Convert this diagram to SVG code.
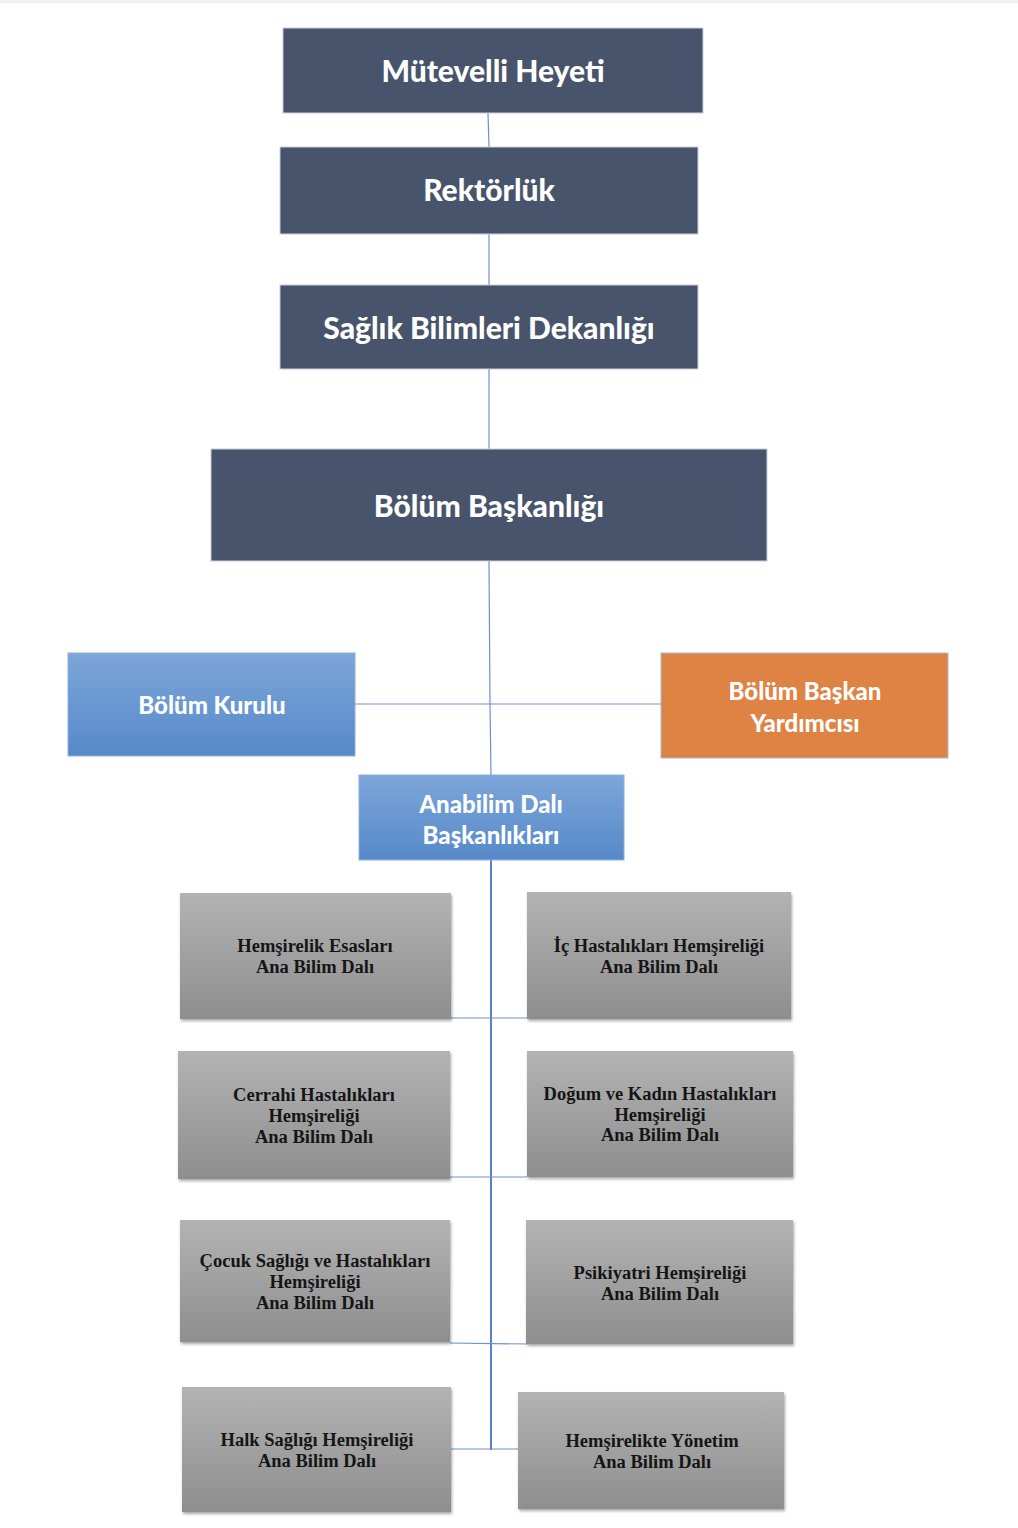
<svg xmlns="http://www.w3.org/2000/svg" width="1018" height="1528" viewBox="0 0 1018 1528">
<defs>
<style>
.dark{fill:#47546B;stroke:#C9CED8;stroke-width:1}
.dt{font-family:Lato,"Noto Sans",sans-serif;font-weight:900;fill:#FFFFFF;text-anchor:middle}
.gt{font-family:"Liberation Serif","DejaVu Serif",serif;font-weight:bold;font-size:18.5px;fill:#151515;text-anchor:middle}
.gray{fill:url(#gg);filter:url(#sh)}
.conn{stroke:#6F8FD3;stroke-width:1.2;fill:none}
.connT{stroke:#5B7FD0;stroke-width:2;fill:none}
</style>
<linearGradient id="bg" x1="0" y1="0" x2="0" y2="1">
<stop offset="0" stop-color="#7DA6D9"/>
<stop offset="1" stop-color="#5689C9"/>
</linearGradient>
<linearGradient id="gg" x1="0" y1="0" x2="0" y2="1">
<stop offset="0" stop-color="#B3B3B3"/>
<stop offset="1" stop-color="#8E8E8E"/>
</linearGradient>
<filter id="sh" x="-10%" y="-10%" width="125%" height="130%">
<feDropShadow dx="1" dy="2" stdDeviation="1.5" flood-color="#000" flood-opacity="0.35"/>
</filter>
</defs>
<rect x="0" y="0" width="1018" height="3" fill="#EFEFEF"/>
<g id="connectors">
<line class="conn" x1="488" y1="113" x2="489" y2="147"/>
<line class="conn" x1="489" y1="234" x2="489" y2="285"/>
<line class="conn" x1="489" y1="369" x2="489" y2="449"/>
<line class="conn" x1="489" y1="561" x2="490" y2="704"/>
<line class="conn" x1="490" y1="704" x2="491" y2="775"/>
<line class="conn" x1="355" y1="704" x2="661" y2="704"/>
<line class="connT" x1="491" y1="860" x2="491" y2="1450"/>
<line class="conn" x1="451" y1="1018" x2="527" y2="1018"/>
<line class="conn" x1="450" y1="1177" x2="527" y2="1177"/>
<line class="conn" x1="450" y1="1343" x2="527" y2="1344"/>
<line class="conn" x1="451" y1="1449" x2="518" y2="1449"/>
</g>
<g id="mutevelli">
<rect class="dark" x="283" y="28" width="420" height="85"/>
<text class="dt" x="493" y="82" font-size="30">Mütevelli Heyeti</text>
</g>
<g id="rektorluk">
<rect class="dark" x="280" y="147" width="418" height="87"/>
<text class="dt" x="489" y="201" font-size="30">Rektörlük</text>
</g>
<g id="dekanlik">
<rect class="dark" x="280" y="285" width="418" height="84"/>
<text class="dt" x="489" y="339" font-size="30">Sağlık Bilimleri Dekanlığı</text>
</g>
<g id="bolumbaskanligi">
<rect class="dark" x="211" y="449" width="556" height="112"/>
<text class="dt" x="489" y="517" font-size="30">Bölüm Başkanlığı</text>
</g>
<g id="bolumkurulu">
<rect x="68" y="653" width="287" height="103" fill="url(#bg)" stroke="#8EAEDC" stroke-width="1"/>
<text class="dt" x="212" y="714" font-size="24">Bölüm Kurulu</text>
</g>
<g id="baskanyardimcisi">
<rect x="661" y="653" width="287" height="105" fill="#DF8344" stroke="#A9B9D6" stroke-width="1"/>
<text class="dt" x="805" y="700" font-size="24">Bölüm Başkan</text>
<text class="dt" x="805" y="732" font-size="24">Yardımcısı</text>
</g>
<g id="anabilimdali">
<rect x="359" y="775" width="265" height="85" fill="url(#bg)" stroke="#8EAEDC" stroke-width="1"/>
<text class="dt" x="491" y="813" font-size="24">Anabilim Dalı</text>
<text class="dt" x="491" y="844" font-size="24">Başkanlıkları</text>
</g>
<g id="g1">
<rect class="gray" x="180" y="893" width="271" height="126"/>
<text class="gt" x="315" y="952">Hemşirelik Esasları</text>
<text class="gt" x="315" y="973">Ana Bilim Dalı</text>
</g>
<g id="g2">
<rect class="gray" x="527" y="892" width="264" height="127"/>
<text class="gt" x="659" y="952">İç Hastalıkları Hemşireliği</text>
<text class="gt" x="659" y="973">Ana Bilim Dalı</text>
</g>
<g id="g3">
<rect class="gray" x="178" y="1051" width="272" height="128"/>
<text class="gt" x="314" y="1101">Cerrahi Hastalıkları</text>
<text class="gt" x="314" y="1122">Hemşireliği</text>
<text class="gt" x="314" y="1143">Ana Bilim Dalı</text>
</g>
<g id="g4">
<rect class="gray" x="527" y="1051" width="266" height="126"/>
<text class="gt" x="660" y="1100">Doğum ve Kadın Hastalıkları</text>
<text class="gt" x="660" y="1121">Hemşireliği</text>
<text class="gt" x="660" y="1141">Ana Bilim Dalı</text>
</g>
<g id="g5">
<rect class="gray" x="180" y="1220" width="270" height="122"/>
<text class="gt" x="315" y="1267">Çocuk Sağlığı ve Hastalıkları</text>
<text class="gt" x="315" y="1288">Hemşireliği</text>
<text class="gt" x="315" y="1309">Ana Bilim Dalı</text>
</g>
<g id="g6">
<rect class="gray" x="526" y="1220" width="267" height="124"/>
<text class="gt" x="660" y="1279">Psikiyatri Hemşireliği</text>
<text class="gt" x="660" y="1300">Ana Bilim Dalı</text>
</g>
<g id="g7">
<rect class="gray" x="182" y="1387" width="269" height="125"/>
<text class="gt" x="317" y="1446">Halk Sağlığı Hemşireliği</text>
<text class="gt" x="317" y="1467">Ana Bilim Dalı</text>
</g>
<g id="g8">
<rect class="gray" x="518" y="1392" width="266" height="117"/>
<text class="gt" x="652" y="1447">Hemşirelikte Yönetim</text>
<text class="gt" x="652" y="1468">Ana Bilim Dalı</text>
</g>
</svg>
